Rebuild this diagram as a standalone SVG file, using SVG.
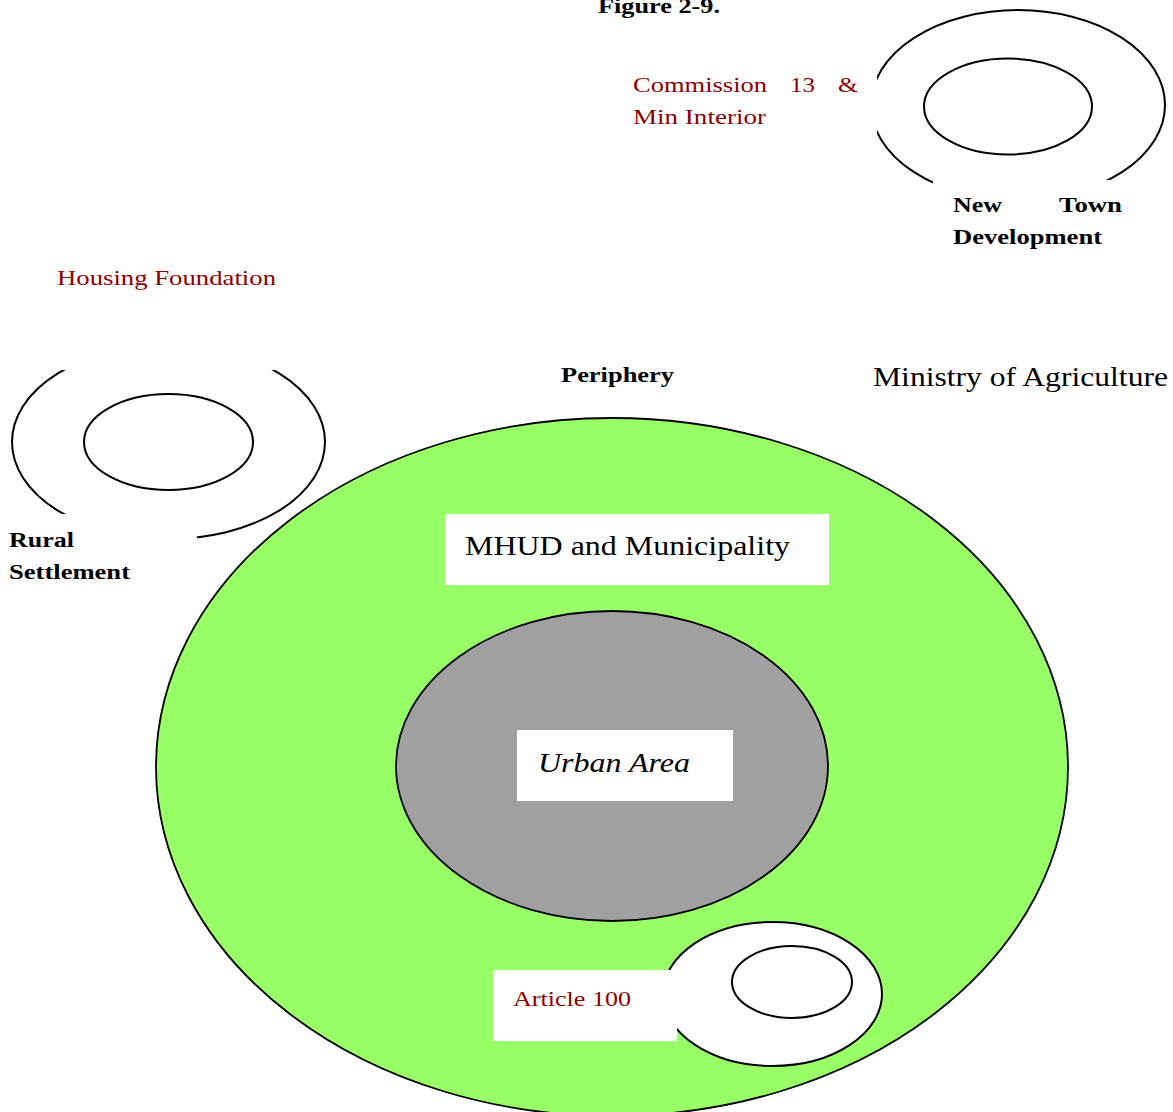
<svg xmlns="http://www.w3.org/2000/svg" width="1173" height="1112" viewBox="0 0 1173 1112">
<style>
.ring{fill:none;stroke:#000;stroke-width:2}
.white{fill:#fff;stroke:#000;stroke-width:2}
.box{fill:#fff;stroke:none}
.t{font-family:"Liberation Serif","Times New Roman",serif;font-size:22px;fill:#000}
.b{font-weight:bold}
.red{fill:#8b0000}
.big{font-size:28px}
</style>
<rect width="1173" height="1112" fill="#fff"/>
<g id="title"><text class="t b" x="598" y="13" font-size="20" textLength="122" lengthAdjust="spacingAndGlyphs">Figure 2-9.</text></g>

<g id="new-town">
<ellipse class="ring" cx="1018" cy="105" rx="147" ry="95"/>
<ellipse class="ring" cx="1008" cy="106.5" rx="84" ry="48"/>
<rect class="box" x="933" y="180" width="220" height="76"/>
<text class="t b" y="212"><tspan x="953" textLength="49" lengthAdjust="spacingAndGlyphs">New</tspan><tspan x="1059" textLength="63" lengthAdjust="spacingAndGlyphs">Town</tspan></text>
<text class="t b" x="953" y="244" textLength="149" lengthAdjust="spacingAndGlyphs">Development</text>
</g>

<g id="commission">
<rect class="box" x="620" y="66" width="257" height="94"/>
<text class="t red" y="92"><tspan x="633" textLength="134" lengthAdjust="spacingAndGlyphs">Commission</tspan><tspan x="790" textLength="25" lengthAdjust="spacingAndGlyphs">13</tspan><tspan x="838" textLength="20" lengthAdjust="spacingAndGlyphs">&amp;</tspan></text>
<text class="t red" x="633" y="124" textLength="133" lengthAdjust="spacingAndGlyphs">Min Interior</text>
</g>

<g id="housing-foundation"><text class="t red" x="57" y="285" textLength="219" lengthAdjust="spacingAndGlyphs">Housing Foundation</text></g>

<g id="rural-settlement">
<ellipse class="ring" cx="168.5" cy="442" rx="156.5" ry="97"/>
<ellipse class="ring" cx="168.5" cy="442" rx="84.5" ry="48"/>
<rect class="box" x="50" y="330" width="240" height="40"/>
<rect class="box" x="0" y="514" width="197" height="76"/>
<text class="t b" x="9" y="547" textLength="65" lengthAdjust="spacingAndGlyphs">Rural</text>
<text class="t b" x="9" y="579" textLength="121" lengthAdjust="spacingAndGlyphs">Settlement</text>
</g>

<g id="periphery">
<ellipse cx="612" cy="767" rx="456" ry="349" fill="#99ff66" stroke="#000" stroke-width="1.8"/>
<text class="t b" x="561" y="382" textLength="113" lengthAdjust="spacingAndGlyphs">Periphery</text>
</g>

<g id="ministry-agriculture"><text class="t big" x="873" y="386" textLength="295" lengthAdjust="spacingAndGlyphs">Ministry of Agriculture</text></g>

<g id="mhud">
<rect class="box" x="445" y="514" width="384" height="71"/>
<text class="t big" x="465" y="555" textLength="325" lengthAdjust="spacingAndGlyphs">MHUD and Municipality</text>
</g>

<g id="urban-area">
<ellipse cx="612" cy="766" rx="216" ry="155" fill="#a0a0a0" stroke="#000" stroke-width="1.8"/>
<rect class="box" x="517" y="730" width="216" height="71"/>
<text class="t big" x="538" y="772" font-style="italic" textLength="152" lengthAdjust="spacingAndGlyphs">Urban Area</text>
</g>

<g id="article-100">
<ellipse class="white" cx="772.5" cy="994" rx="109.5" ry="72"/>
<ellipse class="ring" cx="792" cy="982" rx="60" ry="36"/>
<rect class="box" x="493" y="970" width="184" height="71"/>
<text class="t red" x="513" y="1006" textLength="118" lengthAdjust="spacingAndGlyphs">Article 100</text>
</g>

<g id="connectors"></g>
</svg>
